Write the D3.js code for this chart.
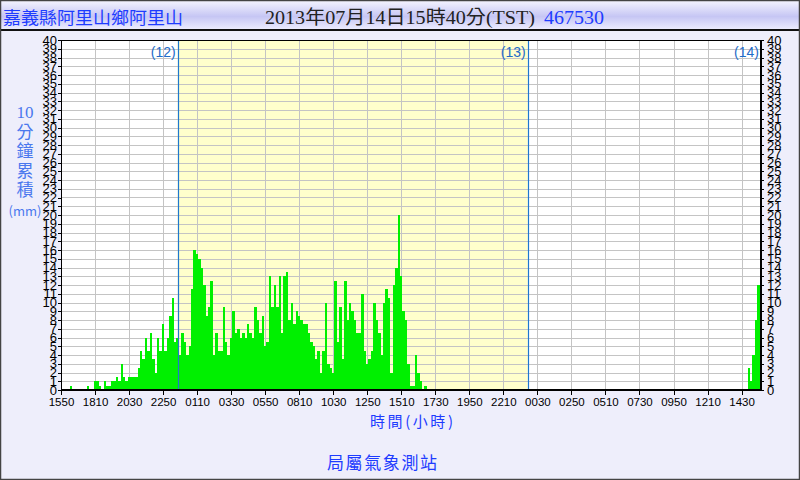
<!DOCTYPE html>
<html><head><meta charset="utf-8">
<script src="https://cdn.jsdelivr.net/npm/d3@7/dist/d3.min.js"></script>
<style>
body{margin:0;background:#EEEEFB;}
svg{display:block}
</style>
</head><body>
<svg id="c" width="800" height="480"></svg>
<script>
// ---------------- data ----------------
const stationName = "嘉義縣阿里山鄉阿里山";
const titleTime = "2013年07月14日15時40分(TST)";
const stationId = "467530";
const axisStart = "12 15:50";            // day hh:mm of the first 10-minute slot
const axisSpanMinutes = 2880;            // 48 hours
const tickLabels = ["1550","1810","2030","2250","0110","0330","0550","0810","1030","1250",
                    "1510","1730","1950","2210","0030","0250","0510","0730","0950","1210","1430"];
const yTicks = d3.range(0, 41);
const dayLabels = ["(12)", "(13)", "(14)"];
const dayLineTimes = ["12 23:50", "13 23:50"];
const yTitleParts = ["10", "分", "鐘", "累", "積", "(mm)"];
const xTitle = "時間(小時)";
const footer = "局屬氣象測站";

// 10-minute rainfall (mm), segment 1 starts 12 15:50
const rainSeg1Start = "12 15:50";
const rainSeg1 = [
  5,0,0,0,0.5,0,0,0,0,0,
  0,0.5,0,0,1,1,0.5,0,1,0.5,
  0.5,1,1,1.5,1,3,1.5,1,1.5,1.5,
  1.5,1.5,2.5,4.5,3.5,6,4.5,6.5,3.5,2,
  6,4.5,7.5,4.5,6,8.5,10.5,5.5,6,4,
  6.5,5.5,4,5,11.5,16,15.5,15,14,12,
  8.5,9.5,12.5,4,6.5,4.5,4.5,9.5,5.5,4,
  6,9,6.5,7,6,6.5,6,7.5,6.5,6,
  9.5,8,6.5,8.5,5,5.5,13,9.5,12,9.5,
  13,6.5,13,13.5,8,10,7.5,9,8.5,8,
  7.5,7.5,6.5,5.5,5,3.5,4.5,2,4.5,10,
  3,2.5,2,12.5,5.5,9.5,3.5,12.5,8,10,
  9,8,6.5,6.5,11,4.5,3,3.5,4.5,10,
  8,6.5,4,10,11.5,10.5,2,12,14,20,
  13,9,8,3,0.5,0.5,4,2,1,0,
  0.5
];
// segment 2 starts 14 15:00
const rainSeg2Start = "14 15:00";
const rainSeg2 = [2.5,1,4,8,12];

// ---------------- helpers ----------------
function toMin(s){
  const [d, hm] = s.split(" ");
  const [h, mi] = hm.split(":").map(Number);
  return (+d) * 1440 + h * 60 + mi;
}
const t0 = toMin(axisStart);
const rel = s => toMin(s) - t0;

const bars = [];
[[rainSeg1Start, rainSeg1], [rainSeg2Start, rainSeg2]].forEach(([st, arr]) => {
  const m0 = rel(st);
  arr.forEach((v, i) => { if (v > 0) bars.push({t: m0 + i * 10, v}); });
});

// ---------------- layout ----------------
const L = 61, R = 761, T = 40, B = 390;
const x = d3.scaleLinear().domain([0, axisSpanMinutes]).range([L, R]);
const y = d3.scaleLinear().domain([0, 40]).range([B, T]);
const svg = d3.select("#c");

const CJK = "'Noto Sans CJK TC','Noto Sans CJK SC',sans-serif";
const SERIF = "'Liberation Serif','DejaVu Serif','Noto Sans CJK TC',serif";

// background
svg.append("rect").attr("width", 800).attr("height", 480).attr("fill", "#EEEEFB");

// title band
const defs = svg.append("defs");
const g1 = defs.append("linearGradient").attr("id", "tb").attr("x1", 0).attr("y1", 0).attr("x2", 0).attr("y2", 1);
g1.append("stop").attr("offset", "0%").attr("stop-color", "#F6F6FF");
g1.append("stop").attr("offset", "55%").attr("stop-color", "#C6C6F4");
g1.append("stop").attr("offset", "100%").attr("stop-color", "#EEEEFF");
svg.append("rect").attr("x", 0).attr("y", 0).attr("width", 800).attr("height", 30).attr("fill", "url(#tb)");
svg.append("line").attr("x1", 0).attr("x2", 800).attr("y1", 30).attr("y2", 30)
  .attr("stroke", "#111").attr("stroke-width", 2);

svg.append("text").attr("x", 3).attr("y", 24).text(stationName)
  .attr("font-family", CJK).attr("font-size", 17).attr("fill", "#1E3CFF")
  .attr("textLength", 180).attr("lengthAdjust", "spacingAndGlyphs");
svg.append("text").attr("x", 265).attr("y", 24).text(titleTime)
  .attr("font-family", SERIF).attr("font-size", 19).attr("fill", "#222")
  .attr("textLength", 270).attr("lengthAdjust", "spacingAndGlyphs");
svg.append("text").attr("x", 544).attr("y", 24).text(stationId)
  .attr("font-family", SERIF).attr("font-size", 19).attr("fill", "#1E3CFF")
  .attr("textLength", 60).attr("lengthAdjust", "spacingAndGlyphs");

// plot background
svg.append("rect").attr("x", L).attr("y", T).attr("width", R - L).attr("height", B - T).attr("fill", "#FFFFFF");
const d1 = rel(dayLineTimes[0]), d2 = rel(dayLineTimes[1]);
svg.append("rect").attr("x", x(d1)).attr("y", T).attr("width", x(d2) - x(d1)).attr("height", B - T)
  .attr("fill", "#FFFFCC");

// grid
const grid = svg.append("g").attr("shape-rendering", "crispEdges");
grid.selectAll("line.h").data(yTicks.filter(v => v > 0 && v < 40)).join("line")
  .attr("x1", L).attr("x2", R).attr("y1", d => Math.round(y(d)) + 0.5).attr("y2", d => Math.round(y(d)) + 0.5)
  .attr("stroke", "#C4C4C4");
const xTickVals = tickLabels.map((_, i) => i * 140);
grid.selectAll("line.v").data(xTickVals.slice(1)).join("line")
  .attr("x1", d => Math.round(x(d)) + 0.5).attr("x2", d => Math.round(x(d)) + 0.5)
  .attr("y1", T).attr("y2", B).attr("stroke", "#C4C4C4");

// bars
const bw = x(10) - x(0);
const clip = defs.append("clipPath").attr("id", "pc");
clip.append("rect").attr("x", L).attr("y", T).attr("width", R - L).attr("height", B - T);
svg.append("g").attr("clip-path", "url(#pc)").attr("shape-rendering", "crispEdges")
  .selectAll("rect").data(bars).join("rect")
  .attr("x", d => x(d.t) - bw / 2).attr("width", bw)
  .attr("y", d => y(d.v)).attr("height", d => B - y(d.v))
  .attr("fill", "#00F000");

// day lines
svg.selectAll("line.day").data(dayLineTimes).join("line")
  .attr("x1", d => Math.round(x(rel(d))) + 0.5).attr("x2", d => Math.round(x(rel(d))) + 0.5)
  .attr("y1", T).attr("y2", B).attr("stroke", "#1E78D0").attr("stroke-width", 1.2);
const dayLabelX = [x(d1) - 2, x(d2) - 2, R - 2];
svg.selectAll("text.day").data(dayLabels).join("text")
  .attr("x", (d, i) => dayLabelX[i]).attr("y", 57).attr("text-anchor", "end")
  .attr("font-family", "'Liberation Sans',Arial,sans-serif").attr("font-size", 14)
  .attr("fill", "#1E6CC8").text(d => d);

// frame of plot
svg.append("rect").attr("x", L + 0.5).attr("y", T + 0.5).attr("width", R - L - 1).attr("height", B - T - 1)
  .attr("fill", "none").attr("stroke", "#000").attr("shape-rendering", "crispEdges");

// axes
const fontAx = "'Liberation Sans',Arial,sans-serif";
const ya = svg.append("g").attr("transform", `translate(${L},0)`)
  .call(d3.axisLeft(y).tickValues(yTicks).tickSize(3).tickPadding(1).tickSizeOuter(0));
const yb = svg.append("g").attr("transform", `translate(${R},0)`)
  .call(d3.axisRight(y).tickValues(yTicks).tickSize(3).tickPadding(3).tickSizeOuter(0));
const xa = svg.append("g").attr("transform", `translate(0,${B})`)
  .call(d3.axisBottom(x).tickValues(xTickVals).tickFormat((d, i) => tickLabels[i]).tickSize(5).tickPadding(3).tickSizeOuter(0));
[ya, yb].forEach(g => g.selectAll("text").attr("font-family", fontAx).attr("font-size", 13).attr("fill", "#000"));
xa.selectAll("text").attr("font-family", fontAx).attr("font-size", 11.5).attr("fill", "#000");
[ya, yb, xa].forEach(g => { g.selectAll("line,path").attr("stroke", "#000").attr("shape-rendering", "crispEdges"); });

// y title
svg.selectAll("text.yt").data(yTitleParts).join("text")
  .attr("x", 25).attr("y", (d, i) => 118 + i * 19.5).attr("text-anchor", "middle")
  .attr("font-family", (d, i) => i === 0 ? SERIF : CJK)
  .attr("font-size", (d, i) => i === 5 ? 13 : 17)
  .attr("fill", "#4A78EE").text(d => d);

// x title & footer
svg.append("text").attr("x", 370).attr("y", 427).text(xTitle)
  .attr("font-family", CJK).attr("font-size", 15).attr("fill", "#1E3CFF")
  .attr("textLength", 83).attr("lengthAdjust", "spacing");
svg.append("text").attr("x", 327).attr("y", 469).text(footer)
  .attr("font-family", CJK).attr("font-size", 17).attr("fill", "#1E3CFF")
  .attr("textLength", 110).attr("lengthAdjust", "spacing");

// outer frame
svg.append("rect").attr("x", 0.5).attr("y", 0.5).attr("width", 799).attr("height", 479)
  .attr("fill", "none").attr("stroke", "#444").attr("stroke-width", 1.5);
</script>
</body></html>
